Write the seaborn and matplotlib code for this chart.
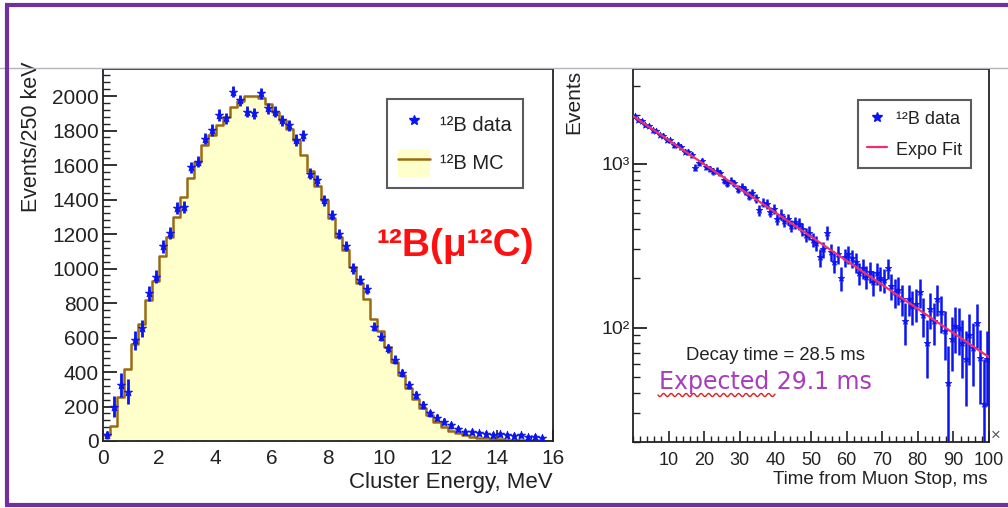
import numpy as np
import pandas as pd
import matplotlib
matplotlib.use("Agg")
import matplotlib.pyplot as plt
import seaborn as sns
from matplotlib.lines import Line2D
from matplotlib.patches import Patch
from matplotlib.ticker import MultipleLocator, FixedLocator, NullFormatter

# ---------------- data ----------------
# Left panel: 12B cluster energy, 250 keV bins from 0 to 16 MeV
energy_edges = [i * 0.25 for i in range(65)]
mc_counts = [35, 85, 255, 420, 560, 680, 815, 930, 1070, 1185,
             1300, 1415, 1525, 1620, 1715, 1775, 1830, 1880, 1935, 1970,
             2000, 2000, 1990, 1955, 1910, 1860, 1810, 1745, 1660, 1565,
             1480, 1400, 1295, 1185, 1105, 1010, 915, 825, 710, 635,
             545, 460, 385, 305, 245, 190, 150, 112, 83, 60,
             44, 33, 25, 20, 15, 12, 10, 8, 6, 5,
             4, 3, 2, 2]
data_counts = [35, 199, 325, 286, 585, 653, 856, 952, 1128, 1204,
               1349, 1358, 1586, 1619, 1754, 1803, 1890, 1870, 2025, 1976,
               1909, 1899, 2015, 1928, 1909, 1860, 1831, 1745, 1773, 1551,
               1513, 1397, 1310, 1200, 1130, 1001, 933, 880, 663, 605,
               537, 470, 395, 325, 265, 210, 160, 135, 112, 90,
               68, 54, 54, 44, 40, 35, 39, 33, 29, 33,
               21, 25, 15]
data_err = [25, 60, 70, 72, 55, 50, 42, 38, 36, 35,
            34, 34, 33, 33, 33, 33, 33, 33, 33, 33,
            33, 33, 33, 33, 33, 33, 33, 33, 33, 32,
            32, 32, 31, 31, 30, 30, 30, 29, 28, 28,
            27, 26, 25, 24, 23, 22, 21, 20, 19, 18,
            18, 17, 17, 16, 16, 16, 16, 15, 15, 15,
            15, 15, 15]

# Right panel: time from muon stop, 1 ms bins
time_counts = [1960, 1850, 1820, 1720, 1700, 1600, 1590, 1500, 1490, 1400,
               1390, 1300, 1310, 1260, 1190, 1180, 1130, 950, 1010, 1040,
               960, 930, 900, 910, 880, 800, 760, 790, 760, 700,
               720, 690, 640, 660, 620, 520, 580, 570, 510, 530,
               460, 490, 450, 460, 420, 440, 430, 400, 370, 380,
               345, 330, 270, 300, 380, 290, 250, 280, 200, 270,
               280, 265, 250, 215, 230, 205, 220, 190, 215, 200,
               195, 230, 180, 165, 170, 150, 110, 150, 135, 140,
               165, 120, 80, 130, 110, 150, 125, 95, 46, 85,
               102, 100, 80, 64, 90, 75, 107, 65, 34, 64]
time_err = [53, 52, 52, 51, 51, 50, 50, 49, 49, 48,
            48, 47, 47, 47, 46, 46, 45, 43, 44, 44,
            43, 43, 42, 42, 42, 41, 41, 41, 41, 40,
            40, 40, 39, 39, 39, 38, 38, 38, 38, 38,
            37, 37, 37, 37, 36, 37, 36, 36, 36, 36,
            35, 35, 34, 35, 36, 35, 34, 35, 33, 34,
            35, 34, 34, 33, 33, 33, 33, 33, 33, 33,
            33, 33, 33, 33, 33, 32, 32, 32, 32, 32,
            33, 32, 31, 32, 32, 32, 32, 32, 31, 31,
            32, 32, 31, 31, 31, 31, 32, 31, 30, 31]
time_edges = [float(i) for i in range(101)]
fit_t = [0, 100]
fit_y = [1960, 66]

left_yticks = [0, 200, 400, 600, 800, 1000, 1200, 1400, 1600, 1800, 2000]
left_xticks = [0, 2, 4, 6, 8, 10, 12, 14, 16]
right_xticks = [10, 20, 30, 40, 50, 60, 70, 80, 90, 100]
right_yticks = [100, 1000]
right_ylabels = ["10²", "10³"]

# ---------------- style ----------------
sns.set_style("white")
plt.rcParams['font.family'] = ['Liberation Sans', 'DejaVu Sans']

BLUE = '#0a14f0'
FILL = '#ffffcc'
BROWN = '#9a6a12'
PINK = '#f0306a'
PURPLE = '#7030a0'
INK = '#222222'

W, H = 1008, 508
fig = plt.figure(figsize=(W / 100, H / 100), dpi=100)
fig.patch.set_facecolor('white')


def fx(px):
    return np.asarray(px) / W


def fy(py):
    return 1 - np.asarray(py) / H


axL = fig.add_axes([fx(103), fy(441), fx(553) - fx(103), fy(69) - fy(441)])
axR = fig.add_axes([fx(633), fy(442), fx(989) - fx(633), fy(69) - fy(442)])

# ---------------- left panel ----------------
ee = np.asarray(energy_edges)
centers = (ee[:-1] + ee[1:]) / 2
mc_df = pd.DataFrame({"energy": centers, "mc": mc_counts})
sns.histplot(data=mc_df, x="energy", weights="mc", bins=energy_edges,
             element="step", fill=True, color=FILL, alpha=1, linewidth=0, ax=axL)
sns.histplot(data=mc_df, x="energy", weights="mc", bins=energy_edges,
             element="step", fill=False, color=BROWN, linewidth=1.8, ax=axL)

dx = centers[:len(data_counts)]
axL.errorbar(dx, data_counts, yerr=data_err, fmt='none', ecolor=BLUE,
             elinewidth=2.0, capsize=0, zorder=3)
sns.scatterplot(x=dx, y=data_counts, marker='*', s=38, color=BLUE,
                edgecolor=BLUE, linewidth=0.6, ax=axL, zorder=4)

axL.set_xlim(0, 16)
axL.set_ylim(0, 2157)
axL.yaxis.set_major_locator(FixedLocator(left_yticks))
axL.yaxis.set_minor_locator(MultipleLocator(40))
axL.xaxis.set_major_locator(FixedLocator(left_xticks))
axL.xaxis.set_minor_locator(MultipleLocator(0.4))
axL.set_yticklabels([str(v) for v in left_yticks])
axL.set_xticklabels([str(v) for v in left_xticks])
axL.tick_params(axis='both', which='both', direction='in', top=False, right=False,
                left=True, bottom=True, colors=INK, labelcolor=INK)
axL.tick_params(axis='y', which='major', length=10, width=1.3, labelsize=15, pad=3)
axL.tick_params(axis='y', which='minor', length=5, width=1.0)
axL.tick_params(axis='x', which='major', length=8, width=1.2, labelsize=15, pad=6)
axL.tick_params(axis='x', which='minor', length=4, width=1.0)
for sp in axL.spines.values():
    sp.set_color(INK)
    sp.set_linewidth(1.3)
axL.set_ylabel("Events/250 keV", fontsize=15.5, color=INK, loc='top')
axL.yaxis.set_label_coords(-0.136, 1.019)
axL.set_xlabel("Cluster Energy, MeV", fontsize=16, color=INK, loc='right')
axL.xaxis.set_label_coords(1.0, -0.082)

hL = [Line2D([], [], marker='*', color=BLUE, linestyle='none', markersize=7),
      (Patch(facecolor=FILL, edgecolor='none'), Line2D([], [], color=BROWN, lw=1.8))]
legL = axL.legend(hL, ["¹²B data", "¹²B MC"], loc='upper left',
                  bbox_to_anchor=((387 - 103) / 450, (441 - 99) / 372),
                  frameon=True, fancybox=False, edgecolor='#333333', fontsize=14.5,
                  handlelength=1.6, handleheight=1.8, labelspacing=0.5,
                  borderpad=0.55, handletextpad=0.5, borderaxespad=0)
legL.get_frame().set_linewidth(1.5)
for t in legL.get_texts():
    t.set_color(INK)

axL.text((377 - 103) / 450, (441 - 246) / 372, "¹²B(μ¹²C)", transform=axL.transAxes,
         ha='left', va='center', fontsize=28, fontweight='bold', color='#ff1010')

# ---------------- right panel ----------------
te = np.asarray(time_edges)
tc = (te[:-1] + te[1:]) / 2
axR.errorbar(tc, time_counts, yerr=time_err, fmt='none', ecolor=BLUE,
             elinewidth=1.8, capsize=0, zorder=3)
sns.scatterplot(x=tc, y=time_counts, marker='*', s=24, color=BLUE,
                edgecolor=BLUE, linewidth=0.5, ax=axR, zorder=4)
sns.lineplot(x=fit_t, y=fit_y, color=PINK, linewidth=1.6, ax=axR, zorder=5)

axR.set_yscale('log')
axR.set_xlim(0, 100)
axR.set_ylim(20, 3800)
axR.yaxis.set_major_locator(FixedLocator(right_yticks))
axR.set_yticklabels(right_ylabels)
minors = [m * 10 ** e for e in (1, 2, 3) for m in range(2, 10)]
axR.yaxis.set_minor_locator(FixedLocator(minors))
axR.yaxis.set_minor_formatter(NullFormatter())
axR.xaxis.set_major_locator(FixedLocator(right_xticks))
axR.set_xticklabels([str(v) for v in right_xticks])
axR.xaxis.set_minor_locator(MultipleLocator(2))
axR.tick_params(axis='both', which='both', direction='in', top=False, right=False,
                left=True, bottom=True, colors=INK, labelcolor=INK)
axR.tick_params(axis='y', which='major', length=10, width=1.3, pad=2, labelsize=14)
axR.tick_params(axis='y', which='minor', length=5, width=1.0)
axR.tick_params(axis='x', which='major', length=8, width=1.2, pad=7, labelsize=13)
axR.tick_params(axis='x', which='minor', length=4, width=1.0)
for sp in axR.spines.values():
    sp.set_color(INK)
    sp.set_linewidth(1.3)
axR.set_ylabel("Events", fontsize=15, color=INK, loc='top')
axR.yaxis.set_label_coords(-0.14, 0.997)
axR.set_xlabel("Time from Muon Stop, ms", fontsize=13.5, color=INK, loc='right')
axR.xaxis.set_label_coords(0.997, -0.078)

hR = [Line2D([], [], marker='*', color=BLUE, linestyle='none', markersize=7),
      Line2D([], [], color=PINK, lw=1.6)]
legR = axR.legend(hR, ["¹²B data", "Expo Fit"], loc='upper left',
                  bbox_to_anchor=((858 - 633) / 356, (442 - 100) / 373),
                  frameon=True, fancybox=False, edgecolor='#333333',
                  fontsize=13, handlelength=1.1, handleheight=1.2, labelspacing=0.6,
                  borderpad=0.5, handletextpad=0.5, borderaxespad=0)
legR.get_frame().set_linewidth(1.5)
for t in legR.get_texts():
    t.set_color(INK)

axR.text((775 - 633) / 356, (442 - 355) / 373, "Decay time = 28.5 ms", transform=axR.transAxes,
         ha='center', va='center', fontsize=13.3, color=INK)
axR.text((659 - 633) / 356, (442 - 382) / 373, "Expected 29.1 ms", transform=axR.transAxes,
         ha='left', va='center', fontsize=17, family='DejaVu Sans', color='#a83cbe')

# ---------------- slide decorations ----------------
fig.text(fx(996), fy(435), "×", fontsize=12, color='#555555', ha='center', va='center')
# spell-check squiggle under "Expected"
sx = np.linspace(658, 775, 120)
sy = 395 + 1.6 * np.sin((sx - 658) / 7.5 * 2 * np.pi)
fig.add_artist(Line2D(fx(sx), fy(sy), transform=fig.transFigure, color='#e02020', lw=1.0))
# title separator
fig.add_artist(Line2D([0, 1], [fy(67.5), fy(67.5)], transform=fig.transFigure,
                      color='#b4b4bc', lw=1.0))
# purple slide frame (left, top, bottom)
fig.add_artist(Line2D([fx(6.5), fx(6.5)], [fy(5), fy(504.5)], transform=fig.transFigure,
                      color=PURPLE, lw=3.0, solid_capstyle='butt'))
fig.add_artist(Line2D([fx(5), 1], [fy(5), fy(5)], transform=fig.transFigure,
                      color=PURPLE, lw=3.0, solid_capstyle='butt'))
fig.add_artist(Line2D([fx(5), 1], [fy(504.5), fy(504.5)], transform=fig.transFigure,
                      color=PURPLE, lw=3.0, solid_capstyle='butt'))

fig.savefig("out.png", dpi=100, facecolor='white')
